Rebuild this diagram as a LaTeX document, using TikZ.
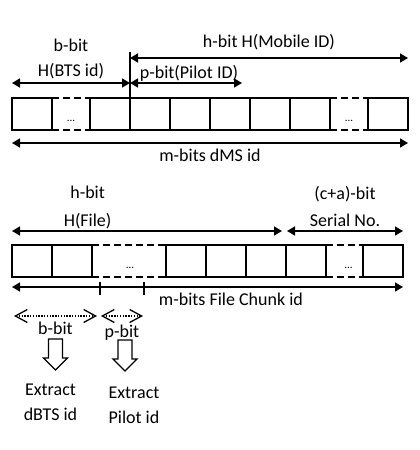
\documentclass[tikz,border=0pt]{standalone}
\usepackage{fontspec}
\setmainfont{Carlito}
\usetikzlibrary{arrows.meta,calc,positioning}

\begin{document}
\begin{tikzpicture}[x=1pt,y=-1pt,line width=1.5pt,
  font=\fontsize{18}{22}\selectfont,
  bitbox/.style={draw,minimum width=40pt,minimum height=32pt,inner sep=0pt,outer sep=0pt},
  gapbox/.style={minimum height=32pt,inner sep=0pt,outer sep=0pt},
  gapline/.style={dash pattern=on 7pt off 4pt},
  dots/.style={font=\fontsize{11}{13}\selectfont,inner sep=0pt},
  span/.style={{Triangle[length=8pt,width=9pt]}-{Triangle[length=8pt,width=9pt]}},
  dotspan/.style={line width=1.3pt,dash pattern=on 1.3pt off 1.5pt,
    {Straight Barb[length=12pt,width=13pt]}-{Straight Barb[length=12pt,width=13pt]}},
  hollow/.style={line width=1.3pt,line join=miter}]
  \useasboundingbox (0,0) rectangle (420,450);

  % dMS id
  \node[bitbox] (t1) at (32,114) {};
  \node[gapbox,minimum width=38pt,right=0pt of t1] (g1) {};
  \node[bitbox,right=0pt of g1] (t2) {};
  \foreach \i [count=\j from 2] in {3,...,7}
    \node[bitbox,right=0pt of t\j] (t\i) {};
  \node[gapbox,minimum width=38pt,right=0pt of t7] (g2) {};
  \node[bitbox,right=0pt of g2] (t8) {};
  \node[dots] (d1) at ($(g1.center)+(0,7)$) {...};
  \node[dots] (d2) at ($(g2.center)+(0,7)$) {...};
  \foreach \a/\b in {t1/t2,t7/t8} {
    \draw[gapline] (\a.north east) -- (\b.north west);
    \draw[gapline] (\a.south east) -- (\b.south west);
  }

  \coordinate (btsL) at ($(t1.north west)+(0,-15)$);
  \coordinate (btsR) at ($(t2.north east)+(0,-15)$);
  \coordinate (pilR) at ($(t5.north east)+(-8,-15)$);
  \coordinate (mobL) at ($(t2.north east)+(0,-40)$);
  \coordinate (mobR) at ($(t8.north east)+(0,-40)$);
  \coordinate (split) at ($(t2.north east)+(0,-46)$);
  \coordinate (dmsL) at ($(t1.south west)+(0,13)$);
  \coordinate (dmsR) at ($(t8.south east)+(0,13)$);

  \draw (t2.north east) -- (split);
  \draw[span] (btsL) -- node[above,align=center] {b-bit\\[3pt]H(BTS id)} (btsR);
  \draw[span] (btsR) -- node[above,inner sep=1pt,xshift=3pt] {p-bit(Pilot ID)} (pilR);
  \draw[span] (mobL) -- node[above=4pt] {h-bit H(Mobile ID)} (mobR);
  \draw[span] (dmsL) -- node[below=2pt] {m-bits dMS id} (dmsR);

  % File Chunk id
  \node[bitbox] (b1) at (32,261) {};
  \node[bitbox,right=0pt of b1] (b2) {};
  \node[gapbox,minimum width=74pt,right=0pt of b2] (g3) {};
  \node[bitbox,right=0pt of g3] (b3) {};
  \foreach \i [count=\j from 3] in {4,5,6}
    \node[bitbox,right=0pt of b\j] (b\i) {};
  \node[gapbox,minimum width=37pt,right=0pt of b6] (g4) {};
  \node[bitbox,right=0pt of g4] (b7) {};
  \node[dots] (d3) at ($(g3.center)+(1,7)$) {...};
  \node[dots] (d4) at ($(g4.center)+(4,7)$) {...};
  \foreach \a/\b in {b2/b3,b6/b7} {
    \draw[gapline] (\a.north east) -- (\b.north west);
    \draw[gapline] (\a.south east) -- (\b.south west);
  }

  \coordinate (fileL) at ($(b1.north west)+(0,-14)$);
  \coordinate (fileR) at ($(b5.north east)+(-4,-14)$);
  \coordinate (serL) at ($(b6.north west)+(1,-14)$);
  \coordinate (serR) at ($(b7.north east)+(0,-14)$);
  \coordinate (chunkL) at ($(b1.south west)+(0,10)$);
  \coordinate (chunkR) at ($(b7.south east)+(0,10)$);
  \coordinate (cut1) at ($(b2.south east)+(8,10)$);
  \coordinate (cut2) at ($(b2.south east)+(52,10)$);

  \draw[span] (fileL) -- node[above,inner sep=1pt,pos=0.28,align=center] {h-bit\\[6pt]H(File)} (fileR);
  \draw[span] (serL) -- node[above,align=center] {(c+a)-bit\\[5pt]Serial No.} (serR);
  \draw[span] (chunkL) -- node[below=2pt,pos=0.56] {m-bits File Chunk id} (chunkR);
  \draw (cut1) ++(0,-5) -- ++(0,13);
  \draw (cut2) ++(0,-5) -- ++(0,13);

  % extraction
  \coordinate (bL) at ($(chunkL)+(2,29)$);
  \coordinate (bR) at ($(cut1)+(-3,29)$);
  \coordinate (pL) at ($(cut1)+(1,29)$);
  \coordinate (pR) at ($(cut2)+(-1,29)$);
  \draw[dotspan] (bL) -- node[below=2pt] (lb) {b-bit} (bR);
  \draw[dotspan] (pL) -- node[below=5pt] (lp) {p-bit} (pR);

  \coordinate (x1) at ($(bL)!0.5!(bR)+(0,23)$);
  \coordinate (x2) at ($(pL)!0.5!(pR)+(3,24)$);
  \foreach \c in {x1,x2}
    \draw[hollow] (\c) ++(-7,0) -- ++(14,0) -- ++(0,19) -- ++(5,0)
      -- ++(-12,12) -- ++(-12,-12) -- ++(5,0) -- cycle;

  \node[align=center] (e1) at ($(x1)+(-5,63)$) {Extract\\[3pt]dBTS id};
  \node[align=left] (e2) at ($(x2)+(9,65)$) {Extract\\[3pt]Pilot id};
\end{tikzpicture}
\end{document}
